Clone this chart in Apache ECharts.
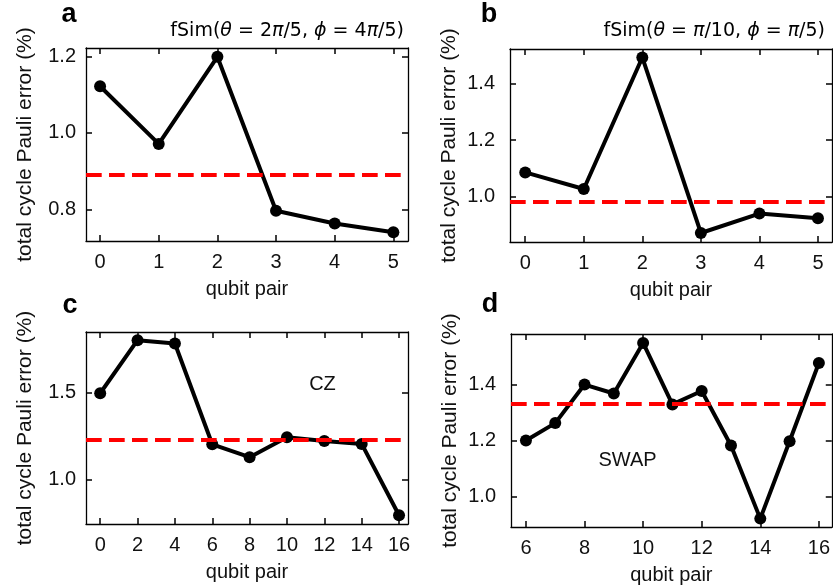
<!DOCTYPE html>
<html>
<head>
<meta charset="utf-8">
<script src="https://cdn.jsdelivr.net/npm/echarts@6/dist/echarts.min.js"></script>
<style>
  html, body { margin: 0; padding: 0; background: #fff; }
  #chart { width: 833px; height: 586px; }
</style>
</head>
<body>
<div id="chart"></div>
<script>
// Panel a: fSim(θ = 2π/5, ϕ = 4π/5)
const pairsA = [0, 1, 2, 3, 4, 5];
const errorA = [1.122, 0.971, 1.199, 0.796, 0.763, 0.740];
const meanA = 0.885;
const xTicksA = [0, 1, 2, 3, 4, 5];
const yTicksA = [0.8, 1.0, 1.2];

// Panel b: fSim(θ = π/10, ϕ = π/5)
const pairsB = [0, 1, 2, 3, 4, 5];
const errorB = [1.085, 1.026, 1.493, 0.870, 0.939, 0.922];
const meanB = 0.984;
const xTicksB = [0, 1, 2, 3, 4, 5];
const yTicksB = [1.0, 1.2, 1.4];

// Panel c: CZ
const pairsC = [0, 2, 4, 6, 8, 10, 12, 14, 16];
const errorC = [1.497, 1.802, 1.783, 1.204, 1.130, 1.244, 1.223, 1.206, 0.796];
const meanC = 1.225;
const xTicksC = [0, 2, 4, 6, 8, 10, 12, 14, 16];
const yTicksC = [1.0, 1.5];

// Panel d: SWAP
const pairsD = [6, 7, 8, 9, 10, 11, 12, 13, 14, 15, 16];
const errorD = [1.200, 1.262, 1.400, 1.368, 1.549, 1.329, 1.377, 1.182, 0.920, 1.197, 1.477];
const meanD = 1.333;
const xTicksD = [6, 8, 10, 12, 14, 16];
const yTicksD = [1.0, 1.2, 1.4];

const FONT = '"Liberation Sans", Arial, sans-serif';
const INK = '#111';

const panels = [
  { grid: { left: 86, top: 48, width: 322, height: 193 }, xr: [-0.24, 5.25], yr: [0.717, 1.222],
    xs: pairsA, ys: errorA, mean: meanA, xt: xTicksA, yt: yTicksA, ylm: 10 },
  { grid: { left: 510, top: 49, width: 322, height: 193 }, xr: [-0.26, 5.24], yr: [0.838, 1.523],
    xs: pairsB, ys: errorB, mean: meanB, xt: xTicksB, yt: yTicksB, ylm: 15 },
  { grid: { left: 86, top: 332, width: 322, height: 192 }, xr: [-0.76, 16.48], yr: [0.746, 1.849],
    xs: pairsC, ys: errorC, mean: meanC, xt: xTicksC, yt: yTicksC, ylm: 10,
    note: { text: 'CZ', coord: [11.9, 1.55] } },
  { grid: { left: 511, top: 334, width: 321, height: 193 }, xr: [5.49, 16.44], yr: [0.890, 1.581],
    xs: pairsD, ys: errorD, mean: meanD, xt: xTicksD, yt: yTicksD, ylm: 15,
    note: { text: 'SWAP', coord: [9.47, 1.127] } }
];

const frameLine = { show: true, onZero: false, lineStyle: { color: '#000', width: 1.3 } };
const tickStyle = (vals) => ({ show: true, inside: true, length: 6, customValues: vals,
  lineStyle: { color: '#000', width: 1.5 } });

const grid = [], xAxis = [], yAxis = [], series = [];
panels.forEach((p, i) => {
  grid.push(Object.assign({ containLabel: false }, p.grid));
  // bottom axis with labels
  xAxis.push({
    type: 'value', gridIndex: i, position: 'bottom', min: p.xr[0], max: p.xr[1],
    axisLine: frameLine, axisTick: tickStyle(p.xt), splitLine: { show: false },
    axisLabel: { show: true, customValues: p.xt, margin: 11, color: INK, fontFamily: FONT, fontSize: 20,
      formatter: v => String(v) },
    name: 'qubit pair', nameLocation: 'middle', nameGap: 38,
    nameTextStyle: { color: INK, fontFamily: FONT, fontSize: 20 }
  });
  // top frame with inward ticks
  xAxis.push({
    type: 'value', gridIndex: i, position: 'top', min: p.xr[0], max: p.xr[1],
    axisLine: frameLine, axisTick: tickStyle(p.xt), splitLine: { show: false },
    axisLabel: { show: false }
  });
  yAxis.push({
    type: 'value', gridIndex: i, position: 'left', min: p.yr[0], max: p.yr[1],
    axisLine: frameLine, axisTick: tickStyle(p.yt), splitLine: { show: false },
    axisLabel: { show: true, customValues: p.yt, margin: p.ylm, color: INK, fontFamily: FONT, fontSize: 20,
      formatter: v => v.toFixed(1) },
    name: 'total cycle Pauli error (%)', nameLocation: 'middle', nameGap: 50,
    nameTextStyle: { color: INK, fontFamily: FONT, fontSize: 21 }
  });
  yAxis.push({
    type: 'value', gridIndex: i, position: 'right', min: p.yr[0], max: p.yr[1],
    axisLine: frameLine, axisTick: tickStyle(p.yt), splitLine: { show: false },
    axisLabel: { show: false }
  });

  // mean error (dashed red)
  series.push({
    type: 'line', xAxisIndex: 2 * i, yAxisIndex: 2 * i, data: [], z: 1, silent: true,
    markLine: {
      silent: true, symbol: 'none', animation: false,
      label: { show: false },
      lineStyle: { color: '#ff0000', width: 4, type: [15.7, 7.3] },
      data: [{ yAxis: p.mean }]
    }
  });

  // per-pair error
  const s = {
    type: 'line', xAxisIndex: 2 * i, yAxisIndex: 2 * i, z: 3,
    data: p.xs.map((x, k) => [x, p.ys[k]]),
    symbol: 'circle', symbolSize: 12, showSymbol: true,
    lineStyle: { color: '#000', width: 4 },
    itemStyle: { color: '#000' },
    animation: false, silent: true
  };
  if (p.note) {
    s.markPoint = {
      silent: true, animation: false,
      symbol: 'circle', symbolSize: 0,
      label: { show: true, position: 'inside', formatter: p.note.text, color: INK, fontFamily: FONT, fontSize: 20 },
      data: [{ coord: p.note.coord }]
    };
  }
  series.push(s);
});

// panel letters and gate titles
const letter = (t, x, y) => ({
  type: 'text', x: x, y: y,
  style: { text: t, fontFamily: FONT, fontWeight: 'bold', fontSize: 27, fill: '#000',
    align: 'center', verticalAlign: 'top' }
});
const mathRich = {
  n: { fontFamily: '"DejaVu Sans", sans-serif', fontSize: 19, fill: '#000' },
  i: { fontFamily: '"DejaVu Sans", sans-serif', fontSize: 19, fontStyle: 'italic', fill: '#000' }
};
const title = (t, x, y) => ({
  type: 'text', x: x, y: y,
  style: { text: t, rich: mathRich, align: 'right', verticalAlign: 'middle' }
});

const chart = echarts.init(document.getElementById('chart'), null, { renderer: 'canvas' });
chart.setOption({
  backgroundColor: '#fff',
  animation: false,
  grid, xAxis, yAxis, series,
  graphic: [
    letter('a', 69, 1),
    letter('b', 489, 1),
    letter('c', 70, 292),
    letter('d', 490, 291),
    title('{n|fSim(}{i|θ}{n| = 2}{i|π}{n|/5, }{i|ϕ}{n| = 4}{i|π}{n|/5)}', 404, 31),
    title('{n|fSim(}{i|θ}{n| = }{i|π}{n|/10, }{i|ϕ}{n| = }{i|π}{n|/5)}', 825, 31)
  ]
});
</script>
</body>
</html>
